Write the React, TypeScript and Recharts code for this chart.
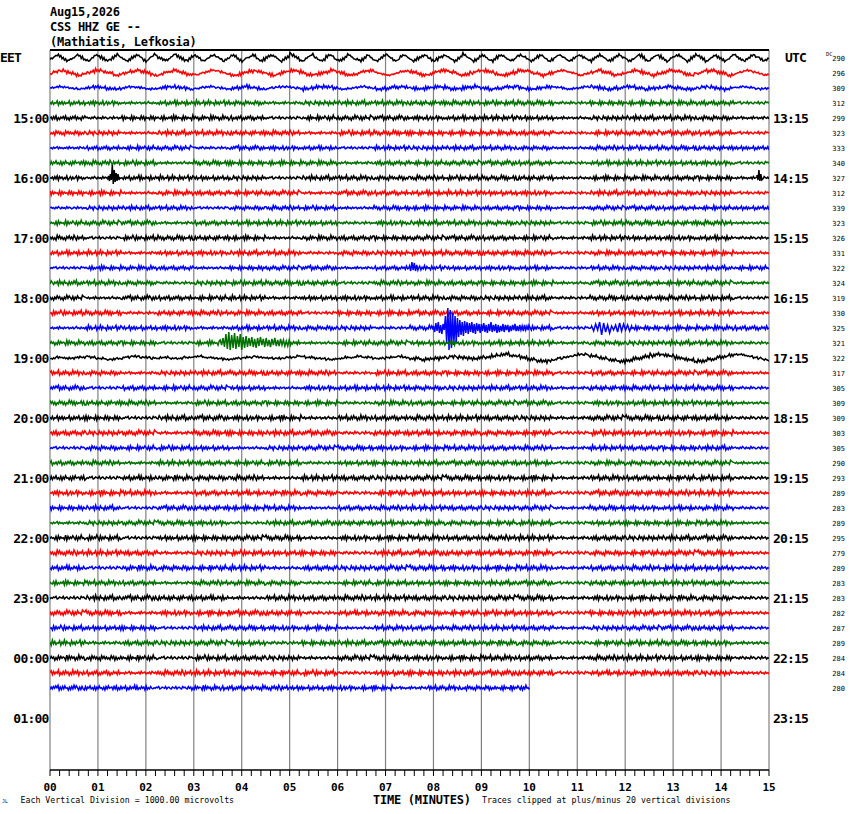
import { LineChart, Line, XAxis, YAxis, ReferenceLine } from "recharts";

// bottom axis labels, one per minute
const minuteLabels = ["00", "01", "02", "03", "04", "05", "06", "07", "08", "09", "10", "11", "12", "13", "14", "15"];
// one label every four traces
const localHours = ["EET", "15:00", "16:00", "17:00", "18:00", "19:00", "20:00", "21:00", "22:00", "23:00", "00:00", "01:00"];
const utcHours = ["UTC", "13:15", "14:15", "15:15", "16:15", "17:15", "18:15", "19:15", "20:15", "21:15", "22:15", "23:15"];
// DC offset printed at the right of every trace
const dcOffsets = [
  290, 296, 309, 312, 299, 323, 333, 340, 327, 312, 339, 323, 326, 331, 322, 324, 319, 330, 325, 321, 322, 317,
  305, 309, 309, 303, 305, 290, 293, 289, 283, 289, 295, 279, 289, 283, 283, 282, 287, 289, 284, 284, 280,
];
const lastTraceMinutes = 10;

// noise deflection per sample digit (digit 0..9, centre 4.5), in pixels
const traceGain = [
  0.35, 0.45, 0.5, 0.6, 0.6, 0.6, 0.55, 0.6, 0.6, 0.6, 0.55, 0.6, 0.6, 0.6, 0.55, 0.6, 0.6, 0.6, 0.6, 0.6, 0.5, 0.6,
  0.6, 0.6, 0.65, 0.65, 0.6, 0.6, 0.65, 0.65, 0.6, 0.6, 0.65, 0.65, 0.65, 0.6, 0.65, 0.65, 0.6, 0.65, 0.65, 0.65, 0.6,
];

// background noise, 30 samples per piece (pieces 20..23 are the quiet ones)
const noiseChunks = [
  "637254816372635481527364825371",
  "462738152647382516374826351748",
  "253618473625184736352847162537",
  "481536274815263748261537462835",
  "172648352716384526173845627381",
  "546273817462538147263581746253",
  "817364528173645283716452837164",
  "523846175328461735284617352846",
  "364527183645291736485271639452",
  "736251948362517483629517364825",
  "527364815273649182537461825374",
  "643718253647192836451827364519",
  "385264719362845172638491526374",
  "725163847251639485271638452976",
  "451827364951826374518263749152",
  "619372548163927451836274591638",
  "374615283746519283746152937461",
  "582736491527384615293748165273",
  "263748591627384516273948516273",
  "947261538472615394827163548271",
  "546354637453645635463574536453",
  "453645736453546374563546375463",
  "564536475364537465346537456354",
  "354657346547356436547356437564",
];

// which noise pieces make up each trace, left to right
const traceChunks: number[][] = [
  [3, 8, 13, 18, 23, 4, 9, 14, 19, 20, 5, 10, 15, 0, 21, 6, 11, 16, 1, 22],
  [7, 12, 17, 2, 22, 6, 11, 16, 1, 20, 4, 9, 14, 19, 21, 3, 8, 13, 18, 23],
  [20, 0, 21, 5, 22, 10, 23, 15, 20, 3, 11, 16, 1, 6, 21, 12, 17, 2, 7, 22],
  [0, 5, 20, 10, 15, 2, 21, 7, 12, 17, 4, 9, 14, 19, 22, 6, 11, 16, 1, 23],
  [1, 22, 6, 11, 16, 3, 23, 8, 13, 18, 5, 10, 15, 0, 20, 7, 12, 17, 2, 21],
  [2, 7, 20, 12, 17, 4, 9, 21, 14, 19, 6, 11, 16, 1, 22, 8, 13, 18, 3, 23],
  [21, 3, 8, 13, 22, 18, 5, 10, 23, 15, 7, 12, 17, 2, 20, 9, 14, 19, 4, 0],
  [4, 9, 14, 20, 19, 6, 11, 16, 21, 1, 8, 13, 18, 3, 22, 10, 15, 0, 5, 23],
  [5, 22, 10, 15, 0, 7, 23, 12, 17, 2, 9, 14, 19, 4, 20, 11, 16, 1, 6, 21],
  [6, 11, 20, 16, 1, 8, 13, 21, 18, 3, 10, 15, 0, 5, 22, 12, 17, 2, 7, 23],
  [22, 7, 12, 17, 23, 2, 9, 14, 20, 19, 11, 16, 1, 6, 21, 13, 18, 3, 8, 0],
  [8, 13, 18, 21, 3, 10, 15, 0, 22, 5, 12, 17, 2, 7, 23, 14, 19, 4, 9, 20],
  [9, 23, 14, 19, 4, 11, 20, 16, 1, 6, 13, 18, 3, 8, 21, 15, 0, 5, 10, 22],
  [10, 15, 21, 0, 5, 12, 17, 22, 2, 7, 14, 19, 4, 9, 23, 16, 1, 6, 11, 20],
  [23, 11, 16, 1, 20, 6, 13, 18, 21, 3, 15, 0, 5, 10, 22, 17, 2, 7, 12, 8],
  [12, 17, 2, 22, 7, 14, 19, 4, 23, 9, 16, 1, 6, 11, 20, 18, 3, 8, 13, 21],
  [13, 20, 18, 3, 8, 15, 21, 0, 5, 10, 17, 2, 7, 12, 22, 19, 4, 9, 14, 23],
  [14, 19, 22, 4, 9, 16, 1, 23, 6, 11, 18, 3, 8, 13, 20, 0, 5, 10, 15, 21],
  [20, 15, 0, 5, 21, 10, 17, 2, 7, 22, 19, 4, 9, 14, 23, 1, 6, 11, 16, 3],
  [16, 1, 6, 23, 11, 18, 3, 20, 8, 13, 0, 5, 10, 15, 21, 2, 7, 12, 17, 22],
  [21, 22, 23, 20, 21, 22, 23, 20, 21, 22, 2, 7, 12, 17, 23, 4, 9, 14, 19, 20],
  [17, 2, 21, 7, 12, 19, 4, 9, 22, 14, 1, 6, 11, 16, 23, 3, 8, 13, 18, 20],
  [18, 23, 3, 8, 13, 0, 20, 5, 10, 15, 2, 7, 12, 17, 21, 4, 9, 14, 19, 22],
  [19, 4, 9, 21, 14, 1, 6, 11, 22, 16, 3, 8, 13, 18, 23, 5, 10, 15, 0, 20],
  [0, 6, 23, 12, 18, 5, 11, 20, 17, 3, 9, 15, 1, 7, 21, 13, 19, 4, 10, 22],
  [1, 7, 13, 21, 19, 6, 12, 18, 22, 4, 10, 16, 2, 8, 23, 14, 0, 5, 11, 20],
  [23, 2, 8, 14, 0, 20, 7, 13, 19, 5, 11, 17, 3, 9, 21, 15, 1, 6, 12, 22],
  [3, 9, 21, 15, 1, 8, 14, 22, 0, 6, 12, 18, 4, 10, 23, 16, 2, 7, 13, 20],
  [4, 23, 10, 16, 2, 9, 20, 15, 1, 7, 13, 19, 5, 11, 21, 17, 3, 8, 14, 22],
  [5, 11, 17, 21, 3, 10, 16, 2, 22, 8, 14, 0, 6, 12, 23, 18, 4, 9, 15, 20],
  [6, 12, 23, 18, 4, 11, 17, 20, 3, 9, 15, 1, 7, 13, 21, 19, 5, 10, 16, 22],
  [21, 7, 13, 19, 5, 22, 12, 18, 4, 10, 16, 2, 8, 14, 23, 0, 6, 11, 17, 20],
  [8, 14, 23, 0, 6, 13, 19, 20, 5, 11, 17, 3, 9, 15, 21, 1, 7, 12, 18, 22],
  [9, 15, 1, 21, 7, 14, 0, 6, 22, 12, 18, 4, 10, 16, 23, 2, 8, 13, 19, 20],
  [10, 23, 16, 2, 8, 15, 20, 1, 7, 13, 19, 5, 11, 17, 21, 3, 9, 14, 0, 22],
  [11, 17, 3, 21, 9, 16, 2, 22, 8, 14, 0, 6, 12, 18, 23, 4, 10, 15, 1, 20],
  [23, 12, 18, 4, 10, 20, 17, 3, 9, 15, 1, 7, 13, 19, 21, 5, 11, 16, 2, 22],
  [13, 19, 21, 5, 11, 18, 4, 22, 10, 16, 2, 8, 14, 0, 23, 6, 12, 17, 3, 20],
  [14, 0, 6, 23, 12, 19, 5, 11, 20, 17, 3, 9, 15, 1, 21, 7, 13, 18, 4, 22],
  [15, 21, 1, 7, 13, 0, 22, 6, 12, 18, 4, 10, 16, 2, 23, 8, 14, 19, 5, 20],
  [16, 2, 8, 23, 14, 1, 7, 20, 13, 19, 5, 11, 17, 3, 21, 9, 15, 0, 6, 22],
  [17, 3, 21, 9, 15, 2, 8, 14, 22, 0, 6, 12, 18, 4, 23, 10, 16, 1, 7, 20],
  [18, 4, 10, 23, 16, 3, 9, 0, 5, 11, 21, 17, 2, 8],
];

// long-period swell riding under the noise on a few traces
const swellSamples: Record<number, string> = {
  0: "357865312468753214687542135786431257864213687542135797531246864213578653124786421356874213578653124698642135786421368753124687532135864213579642136875312457864213568753124697531246864213578642135786531246874213578653124687542135786421357865312468752135786421356875312469753124686421357864213578653124",
  1: "456788765432123456788876543212345677887654321234567887654332223456788876543211234567787665432123456788876543212334567887654321234567887654322123456778765432123456788876543212345678887654321223456788876543212345677887654321234567887654322234567887654321234567888765432123456778876543212345678876543212",
  2: "567887654321234567887654321234567787654321123456788876543212345678876543222345678876543212345677887654321234567888765432112345678876543212345677887654332234567887654321234567887654321234567888765432123456778876543212345678887654322123456788765432123456788876543211234567887654321234567787654321234",
  20: "445555444455556655444433334445556666555544445555444445555666655554444333344445555665555444444455556666555544443333444455556665555444445555666555444433334444555566655554444455556677888877665544332211122334455667788887766554433221112233445566778888776655443322111223344556677888877665544332",
};
const swellGain: Record<number, number> = { 0: 0.85, 1: 0.7, 2: 0.35, 20: 1.0 };

// bursts sampled finer than the drum, pixels up
const quakeBlueMain = [
  2, -4, 5, -3, 6, -5, 3, -6, 4, -2, 12, -15, 20, -22, 18, -20, 15, -17, 12, -14, 10, -9, 8, -7, 6, -8, 7, -5, 6,
  -6, 5, -4, 6, -5, 4, -6, 5, -3, 4, -5, 4, -3, 5, -4, 3, -5, 4, -3, 6, -4, 3, -3, 4, -5, 3, -4, 2, -3, 4, -4, 3,
  -2, 3, -4, 2, -3, 3, -2, 4, -3, 2, -3, 3, -2, 2, -3, 3, -2, 2, -2,
];
const quakeBlueLate = [2, -3, 4, -2, 6, -7, 5, -4, 3, -5, 2, -2, 3, -4, 5, -3, 4, -2, 3, -3, 2];
const quakeGreen = [
  3, -2, 5, -4, 9, -6, 11, -7, 8, -5, 10, -6, 7, -4, 9, -7, 6, -5, 7, -4, 5, -3, 6, -4, 4, -5, 5, -3, 6, -2, 4, -4,
  5, -3, 3, -4, 4, -2, 5, -3, 3, -3, 4, -2, 3, -3, 2, -3, 3, -2,
];
const spikeSixteen = [2, -3, 4, -2, 13, -6, 8, -4, 5, -3, 4, -2];
const spikeSixteenEnd = [3, -2, 8, -3, 4, -2];
const spikeSeventeen = [2, -3, 6, -2, 5, -3, 3, -2];

const events = [
  { trace: 18, start: 8.0, step: 1.5, values: quakeBlueMain },
  { trace: 18, start: 11.3, step: 2.5, values: quakeBlueLate },
  { trace: 19, start: 3.55, step: 1.8, values: quakeGreen },
  { trace: 8, start: 1.22, step: 1.2, values: spikeSixteen },
  { trace: 8, start: 14.75, step: 1.2, values: spikeSixteenEnd },
  { trace: 14, start: 7.5, step: 1.5, values: spikeSeventeen },
];

const COLORS = ["#000000", "#ff0000", "#0000ff", "#007000"];
const ROW = 15; // pixels between traces
const Y_DOMAIN = [-8 / ROW, 712 / ROW];
const MONO = "'DejaVu Sans Mono', monospace";

function buildTrace(i: number) {
  const noise = traceChunks[i].map((c) => noiseChunks[c]).join("");
  const swell = swellSamples[i];
  const span = i === traceChunks.length - 1 ? lastTraceMinutes : 15;
  const n = noise.length;
  let pts = noise.split("").map((c, k) => {
    let v = (Number(c) - 4.5) * traceGain[i];
    if (swell) v += (Number(swell[Math.floor((k * swell.length) / n)]) - 4.5) * swellGain[i];
    return { t: (k * span) / (n - 1), y: i - v / ROW };
  });
  for (const e of events.filter((ev) => ev.trace === i)) {
    const end = e.start + ((e.values.length - 1) * e.step) / 60;
    pts = pts.filter((p) => p.t < e.start || p.t > end);
    e.values.forEach((v, j) => pts.push({ t: e.start + (j * e.step) / 60, y: i - v / ROW }));
  }
  return pts.sort((a, b) => a.t - b.t);
}

const traces = traceChunks.map((_, i) => buildTrace(i));
const minorTicks = Array.from({ length: 15 * 5 + 1 }, (_, k) => k / 5);
const hourTicks = localHours.map((_, k) => k * 4);
const traceTicks = dcOffsets.map((_, k) => k);

const MinuteTick = (p: any) => {
  const v = p.payload.value;
  const m = Math.round(v);
  if (Math.abs(v - m) > 1e-6) return <g />;
  return (
    <text x={p.x} y={790.5} textAnchor="middle" fontFamily={MONO} fontWeight="bold" fontSize={11} fill="#000">
      {minuteLabels[m]}
    </text>
  );
};

const LeftTick = (p: any) => {
  const k = Math.round(p.payload.value / 4);
  const first = k === 0;
  return (
    <text x={first ? 0 : 48.5} y={p.y + (first ? 3.5 : 5)} textAnchor={first ? "start" : "end"} fontFamily={MONO}
      fontWeight="bold" fontSize={13} letterSpacing={-0.8} fill="#000">
      {localHours[k]}
    </text>
  );
};

const UtcTick = (p: any) => {
  const k = Math.round(p.payload.value / 4);
  const first = k === 0;
  return (
    <text x={first ? 785 : 773} y={p.y + (first ? 3.5 : 5)} textAnchor="start" fontFamily={MONO} fontWeight="bold"
      fontSize={13} letterSpacing={-0.8} fill="#000">
      {utcHours[k]}
    </text>
  );
};

const DcTick = (p: any) => {
  const k = Math.round(p.payload.value);
  return (
    <g>
      {k === 0 && (
        <text x={826} y={55.5} fontFamily={MONO} fontSize={5.5} fill="#000">
          DC
        </text>
      )}
      <text x={845} y={p.y + 2.5} textAnchor="end" fontFamily={MONO} fontSize={7} fill="#000">
        {dcOffsets[k]}
      </text>
    </g>
  );
};

export default function App() {
  return (
    <div style={{ position: "absolute", left: 0, top: 0, width: 850, height: 814, background: "#fff" }}>
      <LineChart width={850} height={814} margin={{ top: 50, right: 0, bottom: 0, left: 0 }}>
        <XAxis type="number" dataKey="t" domain={[0, 15]} ticks={minorTicks} interval={0} height={44} tickSize={6}
          tickMargin={0} axisLine={{ stroke: "#000", strokeWidth: 1.5 }} tickLine={{ stroke: "#000" }}
          tick={MinuteTick} allowDataOverflow />
        <YAxis type="number" domain={Y_DOMAIN} reversed ticks={hourTicks} interval={0} width={50} axisLine={false}
          tickLine={false} tick={LeftTick} allowDataOverflow />
        <YAxis yAxisId="utc" orientation="right" type="number" domain={Y_DOMAIN} reversed ticks={hourTicks}
          interval={0} width={55} axisLine={false} tickLine={false} tick={UtcTick} allowDataOverflow />
        <YAxis yAxisId="dc" orientation="right" type="number" domain={Y_DOMAIN} reversed ticks={traceTicks}
          interval={0} width={26} axisLine={false} tickLine={false} tick={DcTick} allowDataOverflow />
        {minuteLabels.map((_, m) => (
          <ReferenceLine key={`g${m}`} x={m} stroke="#808080" strokeWidth={1.2} />
        ))}
        <ReferenceLine y={Y_DOMAIN[0]} stroke="#000" strokeWidth={2} />
        {traces.map((d, i) => (
          <Line key={i} data={d} dataKey="y" type="linear" stroke={COLORS[i % 4]} strokeWidth={1.5} dot={false}
            isAnimationActive={false} />
        ))}
      </LineChart>
      <svg width={850} height={814} style={{ position: "absolute", left: 0, top: 0, pointerEvents: "none" }}>
        <g fontFamily={MONO} fontWeight="bold" fontSize={12} letterSpacing={-0.25} fill="#000">
          <text x={50} y={16}>Aug15,2026</text>
          <text x={50} y={31}>CSS HHZ GE --</text>
          <text x={50} y={45.5}>(Mathiatis, Lefkosia)</text>
          <text x={373} y={803.5} fontSize={12}>TIME (MINUTES)</text>
        </g>
        <g fontFamily={MONO} fontSize={8.25} fill="#000">
          <text x={20.5} y={803}>Each Vertical Division = 1000.00 microvolts</text>
          <text x={482} y={803}>Traces clipped at plus/minus 20 vertical divisions</text>
          <text x={2} y={803} fontSize={5}>JL</text>
        </g>
      </svg>
    </div>
  );
}
